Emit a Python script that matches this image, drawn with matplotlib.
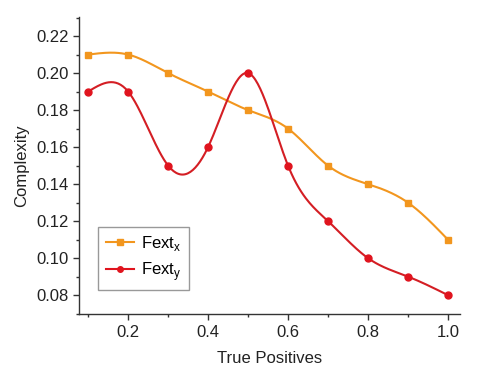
import numpy as np
import matplotlib
matplotlib.use('Agg')
import matplotlib.pyplot as plt
from matplotlib.ticker import MultipleLocator

plt.rcParams['font.family'] = ['Liberation Sans', 'DejaVu Sans']
plt.rcParams['mathtext.fontset'] = 'custom'
plt.rcParams['mathtext.rm'] = 'Liberation Sans'

# data
true_pos = [0.1, 0.2, 0.3, 0.4, 0.5, 0.6, 0.7, 0.8, 0.9, 1.0]
fext_x = [0.21, 0.21, 0.20, 0.19, 0.18, 0.17, 0.15, 0.14, 0.13, 0.11]
fext_y = [0.19, 0.19, 0.15, 0.16, 0.20, 0.15, 0.12, 0.10, 0.09, 0.08]


def spline_line(x, y, n=300):
    # natural cubic spline, only used to draw the smooth connecting line
    x = np.asarray(x, float)
    y = np.asarray(y, float)
    k = len(x)
    h = np.diff(x)
    A = np.zeros((k, k))
    b = np.zeros(k)
    A[0, 0] = A[-1, -1] = 1
    for i in range(1, k - 1):
        A[i, i - 1] = h[i - 1]
        A[i, i] = 2 * (h[i - 1] + h[i])
        A[i, i + 1] = h[i]
        b[i] = 6 * ((y[i + 1] - y[i]) / h[i] - (y[i] - y[i - 1]) / h[i - 1])
    M = np.linalg.solve(A, b)
    xs = np.linspace(x[0], x[-1], n)
    idx = np.clip(np.searchsorted(x, xs) - 1, 0, k - 2)
    x0, x1 = x[idx], x[idx + 1]
    hh = x1 - x0
    t0 = x1 - xs
    t1 = xs - x0
    ys = (M[idx] * t0**3 / (6 * hh) + M[idx + 1] * t1**3 / (6 * hh)
          + (y[idx] / hh - M[idx] * hh / 6) * t0
          + (y[idx + 1] / hh - M[idx + 1] * hh / 6) * t1)
    return xs, ys


orange = '#F2961E'
red = '#E0141E'

fig = plt.figure(figsize=(4.8, 3.7), dpi=100)
ax = fig.add_axes([0.165, 0.151, 0.793, 0.803])

xs, ys = spline_line(true_pos, fext_x)
ax.plot(xs, ys, color=orange, lw=1.5)
ax.plot(true_pos, fext_x, 's', color=orange, ms=5, ls='none')
xs, ys = spline_line(true_pos, fext_y)
ax.plot(xs, ys, color='#D41E24', lw=1.5)
ax.plot(true_pos, fext_y, 'o', color=red, ms=5, ls='none')

# legend proxies
ax.plot([], [], color=orange, marker='s', ms=4, lw=1.5, label='Fext$_\\mathregular{x}$')
ax.plot([], [], color=red, marker='o', ms=4, lw=1.5, label='Fext$_\\mathregular{y}$')
leg = ax.legend(loc='lower left', bbox_to_anchor=(0.05, 0.08), borderaxespad=0,
                fontsize=12, fancybox=False, edgecolor='#999999', framealpha=1,
                handlelength=1.7, handletextpad=0.4, borderpad=0.45,
                labelspacing=0.4)
leg.get_frame().set_linewidth(1.0)

ax.set_xlim(0.0775, 1.03)
ax.set_ylim(0.0697, 0.2303)
ax.xaxis.set_major_locator(MultipleLocator(0.2))
ax.xaxis.set_minor_locator(MultipleLocator(0.1))
ax.yaxis.set_major_locator(MultipleLocator(0.02))
ax.yaxis.set_minor_locator(MultipleLocator(0.01))
ax.set_xticks([0.2, 0.4, 0.6, 0.8, 1.0])
ax.set_xticklabels(['0.2', '0.4', '0.6', '0.8', '1.0'])
ax.set_yticks([0.08, 0.10, 0.12, 0.14, 0.16, 0.18, 0.20, 0.22])
ax.set_yticklabels(['0.08', '0.10', '0.12', '0.14', '0.16', '0.18', '0.20', '0.22'])

for s in ['top', 'right']:
    ax.spines[s].set_visible(False)
for s in ['left', 'bottom']:
    ax.spines[s].set_color('#333333')
    ax.spines[s].set_linewidth(1.0)
ax.tick_params(which='major', direction='out', length=4, width=1, color='#333333',
               labelsize=12, labelcolor='#222222')
ax.tick_params(which='minor', direction='out', length=2.5, width=1, color='#333333')

ax.set_xlabel('True Positives', fontsize=12, color='#222222', labelpad=8)
ax.set_ylabel('Complexity', fontsize=12, color='#222222', labelpad=5)

fig.savefig('out.png', dpi=100)
